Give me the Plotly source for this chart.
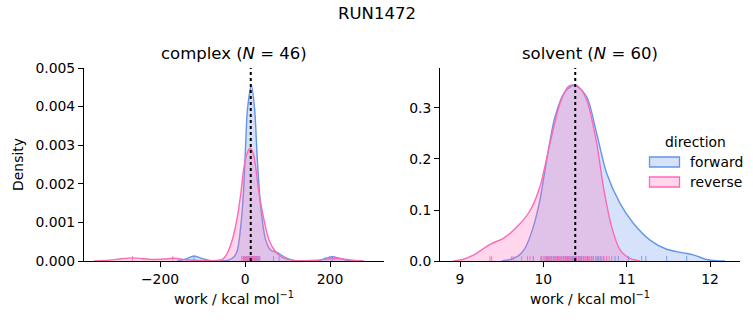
import plotly.graph_objects as go

# ---------------- data ----------------
complex_fwd_x = [-160, -140, -120, -100, -80, -60, -40, -26, -18, -10.2, -3.9, 1.6, 5.5, 14.9,
                 22.7, 29, 36.9, 48.6, 60.4, 76, 91.8, 111, 130, 172, 190, 205, 222, 242, 260]
complex_fwd_d = [0, 0.00005, 0.00013, 0.00006, 0.00001, 0, 0.00002, 0.00011, 0.00028, 0.00089,
                 0.00175, 0.00305, 0.00391, 0.00456, 0.00391, 0.0026, 0.0014, 0.00054, 0.00028,
                 0.00022, 0.00011, 0.00002, 0, 0.00001, 0.00007, 0.00011, 0.00007, 0.00001, 0]

complex_rev_x = [-355, -320, -290, -265, -240, -214, -190, -167, -145, -120, -90, -70, -53, -42,
                 -30, -18, -10, -2.4, 5, 12, 19, 25, 33, 44.7, 56.5, 72, 88, 105, 130, 170, 195,
                 212, 230, 255, 280]
complex_rev_d = [0, 0.00002, 0.00006, 0.00008, 0.00006, 0.00004, 0.00005, 0.00007, 0.00004,
                 0.00002, 0.00001, 0.00001, 0.00004, 0.0002, 0.00055, 0.00115, 0.00175, 0.00244,
                 0.0028, 0.00292, 0.0028, 0.00244, 0.00175, 0.00106, 0.00054, 0.00024, 0.00009,
                 0.00003, 0.00001, 0.00002, 0.00005, 0.00007, 0.00005, 0.00002, 0]

solvent_fwd_x = [9.50, 9.60, 9.70, 9.78, 9.87, 9.96, 10.04, 10.14, 10.26, 10.38, 10.52, 10.64,
                 10.76, 10.92, 11.08, 11.28, 11.48, 11.68, 11.80, 11.96, 12.08, 12.18]
solvent_fwd_d = [0, 0.003, 0.010, 0.025, 0.062, 0.12, 0.198, 0.283, 0.332, 0.345, 0.322, 0.25,
                 0.172, 0.113, 0.074, 0.041, 0.023, 0.016, 0.012, 0.003, 0.0005, 0]

solvent_rev_x = [8.92, 9.05, 9.165, 9.365, 9.525, 9.685, 9.845, 9.96, 10.08, 10.2, 10.30, 10.36,
                 10.44, 10.52, 10.64, 10.72, 10.82, 10.92, 11.04, 11.16]
solvent_rev_d = [0, 0.004, 0.012, 0.033, 0.045, 0.067, 0.10, 0.146, 0.231, 0.309, 0.342, 0.345,
                 0.338, 0.316, 0.231, 0.146, 0.067, 0.022, 0.005, 0]

complex_fwd_rug = [-120, -4, -2, 1, 3, 5, 6, 8, 9, 10, 11, 12, 13, 14, 15, 16, 17, 18, 19, 20,
                   21, 22, 24, 25, 27, 29, 31, 34, 67, 80, 205]
complex_rev_rug = [-265, -170, -8, -5, -2, 0, 2, 4, 6, 7, 9, 10, 11, 12, 13, 14, 15, 16, 17, 18,
                   20, 22, 23, 26, 28, 30, 35, 210]

solvent_fwd_rug = [9.88, 9.98, 10.02, 10.04, 10.05, 10.07, 10.08, 10.10, 10.12, 10.13, 10.15,
                   10.17, 10.19, 10.20, 10.22, 10.24, 10.26, 10.27, 10.29, 10.30, 10.32, 10.33,
                   10.35, 10.36, 10.38, 10.39, 10.40, 10.42, 10.43, 10.45, 10.46, 10.48, 10.50,
                   10.53, 10.55, 10.58, 10.60, 10.63, 10.66, 10.69, 10.72, 10.76, 10.86, 10.90,
                   11.02, 11.18, 11.23, 11.48, 11.72]
solvent_rev_rug = [9.36, 9.38, 9.62, 9.64, 9.74, 9.81, 9.84, 9.88, 9.97, 10.00, 10.02, 10.04,
                   10.06, 10.08, 10.10, 10.12, 10.14, 10.16, 10.18, 10.19, 10.21, 10.22, 10.24,
                   10.25, 10.27, 10.28, 10.30, 10.31, 10.33, 10.34, 10.36, 10.37, 10.39, 10.40,
                   10.42, 10.44, 10.46, 10.48, 10.50, 10.52, 10.54, 10.56, 10.58, 10.60, 10.63,
                   10.65, 10.68, 10.70, 10.73, 10.76, 10.79, 10.82]

complex_center = 13.4
solvent_center = 10.383

directions = ["forward", "reverse"]
legend_title = "direction"
suptitle = "RUN1472"
complex_title = "complex (<i>N</i> = 46)"
solvent_title = "solvent (<i>N</i> = 60)"
x_title = "work / kcal mol<sup>−1</sup>"

# ---------------- styling ----------------
W, H = 753, 325
FONT = "DejaVu Sans"
BLUE = "#6495ED"
PINK = "#FF69B4"
BLUE_F = "rgba(100,149,237,0.27)"
PINK_F = "rgba(255,105,180,0.27)"
FS = 13.9

def px_x(p):
    return p / W

def px_y(p):
    return 1 - p / H

fig = go.Figure()

def add_kde(x, d, color, fill, name, xa, ya):
    fig.add_trace(go.Scatter(x=x, y=d, mode="lines", line=dict(color=color, width=1.4, shape="spline", smoothing=0.8),
                             fill="tozeroy", fillcolor=fill, name=name, showlegend=False,
                             xaxis=xa, yaxis=ya, hoverinfo="skip"))

def add_rug(vals, h, color, xa, ya):
    xs, ys = [], []
    for v in vals:
        xs += [v, v, None]
        ys += [0, h, None]
    fig.add_trace(go.Scatter(x=xs, y=ys, mode="lines", line=dict(color=color, width=1),
                             opacity=0.85, showlegend=False, xaxis=xa, yaxis=ya, hoverinfo="skip"))

add_kde(complex_fwd_x, complex_fwd_d, BLUE, BLUE_F, directions[0], "x", "y")
add_kde(complex_rev_x, complex_rev_d, PINK, PINK_F, directions[1], "x", "y")
add_kde(solvent_fwd_x, solvent_fwd_d, BLUE, BLUE_F, directions[0], "x2", "y2")
add_kde(solvent_rev_x, solvent_rev_d, PINK, PINK_F, directions[1], "x2", "y2")

add_rug(complex_fwd_rug, 0.000125, BLUE, "x", "y")
add_rug(complex_rev_rug, 0.000125, PINK, "x", "y")
add_rug(solvent_fwd_rug, 0.0095, BLUE, "x2", "y2")
add_rug(solvent_rev_rug, 0.0095, PINK, "x2", "y2")

ydom = [px_y(261), px_y(68)]
axis_common = dict(showline=True, linecolor="black", linewidth=1, mirror=False, showgrid=False,
                   zeroline=False, ticks="outside", ticklen=5, tickwidth=1, tickcolor="black",
                   automargin=False, tickfont=dict(family=FONT, size=FS, color="black"))

# manual legend (patch boxes like matplotlib)
legend_shapes = []
legend_annots = [dict(text=legend_title, x=px_x(695), y=px_y(142), xref="paper", yref="paper",
                      showarrow=False, xanchor="center", yanchor="middle",
                      font=dict(family=FONT, size=FS))]
for i, (name, lc, fc) in enumerate(zip(directions, [BLUE, PINK], [BLUE_F, PINK_F])):
    yc = 162 + 20 * i
    legend_shapes.append(dict(type="rect", xref="paper", yref="paper",
                              x0=px_x(649.5), x1=px_x(679.5), y0=px_y(yc + 5), y1=px_y(yc - 5),
                              fillcolor=fc, line=dict(color=lc, width=1.3)))
    legend_annots.append(dict(text=name, x=px_x(688), y=px_y(yc), xref="paper", yref="paper",
                              showarrow=False, xanchor="left", yanchor="middle",
                              font=dict(family=FONT, size=FS)))

fig.update_layout(
    width=W, height=H, margin=dict(l=0, r=0, t=0, b=0, autoexpand=False),
    paper_bgcolor="white", plot_bgcolor="white", showlegend=False,
    font=dict(family=FONT, size=FS, color="black"),
    xaxis=dict(domain=[px_x(84), px_x(384)], range=[-379, 327], tickvals=[-200, 0, 200],
               ticktext=["−200", "0", "200"], anchor="y",
               title=dict(text=x_title, standoff=8, font=dict(family=FONT, size=FS)), **axis_common),
    yaxis=dict(domain=ydom, range=[0, 0.005], tickvals=[0, 0.001, 0.002, 0.003, 0.004, 0.005],
               tickformat=".3f", anchor="x",
               title=dict(text="Density", standoff=8, font=dict(family=FONT, size=FS)), **axis_common),
    xaxis2=dict(domain=[px_x(440), px_x(740)], range=[8.76, 12.36], tickvals=[9, 10, 11, 12],
                anchor="y2",
                title=dict(text=x_title, standoff=8, font=dict(family=FONT, size=FS)), **axis_common),
    yaxis2=dict(domain=ydom, range=[0, 0.3784], tickvals=[0, 0.1, 0.2, 0.3], tickformat=".1f",
                anchor="x2", **axis_common),
    shapes=[
        dict(type="line", xref="x", yref="y domain", x0=complex_center, x1=complex_center, y0=0, y1=1,
             line=dict(color="black", width=2, dash="dot")),
        dict(type="line", xref="x2", yref="y2 domain", x0=solvent_center, x1=solvent_center, y0=0, y1=1,
             line=dict(color="black", width=2, dash="dot")),
    ] + legend_shapes,
    annotations=[
        dict(text=suptitle, x=0.5, y=px_y(13), xref="paper", yref="paper", showarrow=False,
             xanchor="center", yanchor="middle", font=dict(family=FONT, size=16.5)),
        dict(text=complex_title, x=px_x(234), y=px_y(54), xref="paper", yref="paper", showarrow=False,
             xanchor="center", yanchor="middle", font=dict(family=FONT, size=16.5)),
        dict(text=solvent_title, x=px_x(590), y=px_y(54), xref="paper", yref="paper", showarrow=False,
             xanchor="center", yanchor="middle", font=dict(family=FONT, size=16.5)),
    ] + legend_annots,
)

fig.write_html("out.html")
